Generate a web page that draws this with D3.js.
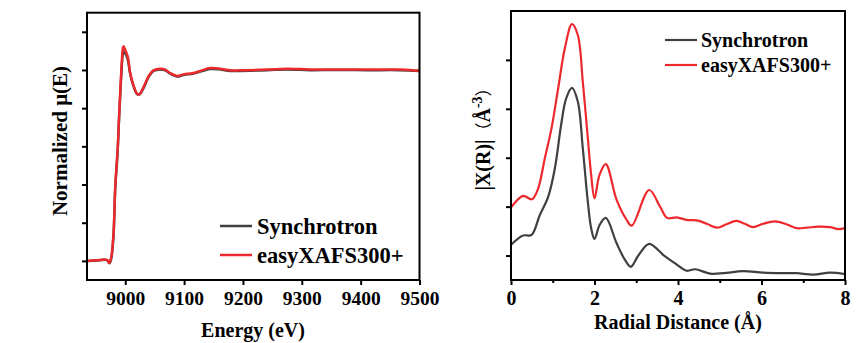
<!DOCTYPE html>
<html><head><meta charset="utf-8">
<script src="https://cdn.jsdelivr.net/npm/d3@7"></script>
<style>body{margin:0;background:#fff}svg{display:block}text{font-family:"Liberation Serif","Times New Roman",serif;font-weight:bold;fill:#000}</style>
</head><body>
<script>
// ---------- Data ----------
const seriesNames = ["Synchrotron", "easyXAFS300+"];
const seriesColors = ["#404040", "#ec2a2e"];

// XANES (left)
const energy      = [8936, 8950, 8969, 8973, 8976, 8980, 8983, 8987, 8990, 8993, 8996, 8997, 9000, 9002, 9005, 9008, 9013, 9020, 9024, 9031, 9040, 9048, 9059, 9068, 9076, 9088, 9099, 9116, 9130, 9144, 9161, 9178, 9195, 9241, 9275, 9314, 9354, 9410, 9467, 9500];
const muSync      = [0.000, 0.002, 0.004, -0.012, 0.010, 0.130, 0.380, 0.570, 0.780, 0.960, 1.090, 1.100, 1.085, 1.075, 1.045, 0.985, 0.925, 0.874, 0.872, 0.905, 0.965, 0.995, 1.003, 0.998, 0.982, 0.966, 0.974, 0.981, 0.994, 1.005, 1.003, 0.995, 0.995, 0.999, 1.003, 0.999, 1.000, 0.999, 0.999, 0.995];
const muEasy      = [0.000, 0.003, 0.005, -0.010, 0.015, 0.140, 0.390, 0.580, 0.790, 0.980, 1.115, 1.124, 1.105, 1.090, 1.060, 0.990, 0.930, 0.876, 0.873, 0.910, 0.970, 0.998, 1.007, 1.002, 0.984, 0.969, 0.977, 0.984, 0.998, 1.010, 1.007, 0.998, 0.998, 1.002, 1.007, 1.002, 1.003, 1.002, 1.002, 0.997];
const energyTicks = [9000, 9100, 9200, 9300, 9400, 9500];
const muTicks     = [0, 0.2, 0.4, 0.6, 0.8, 1.0, 1.2];

// EXAFS FT (right)
const rSync   = [0, 0.29, 0.49, 0.69, 0.89, 1.05, 1.20, 1.32, 1.46, 1.60, 1.72, 1.84, 1.92, 2.00, 2.12, 2.27, 2.53, 2.73, 2.87, 3.05, 3.31, 3.65, 3.93, 4.21, 4.41, 4.77, 5.09, 5.56, 6.04, 6.52, 6.84, 7.24, 7.64, 8.0];
const chiSync = [1.22, 1.41, 1.42, 1.83, 2.20, 2.78, 3.67, 4.21, 4.43, 4.15, 3.19, 2.10, 1.56, 1.34, 1.62, 1.77, 1.25, 0.91, 0.77, 1.00, 1.24, 1.01, 0.84, 0.69, 0.72, 0.63, 0.64, 0.68, 0.65, 0.64, 0.64, 0.61, 0.65, 0.62];
const rEasy   = [0, 0.29, 0.50, 0.65, 0.81, 0.97, 1.13, 1.29, 1.46, 1.60, 1.72, 1.84, 1.92, 2.00, 2.12, 2.27, 2.53, 2.77, 2.89, 3.31, 3.57, 3.74, 3.97, 4.20, 4.45, 4.69, 4.94, 5.16, 5.40, 5.60, 5.80, 6.04, 6.32, 6.60, 6.84, 7.08, 7.36, 7.64, 7.84, 8.0];
const chiEasy = [1.98, 2.22, 2.15, 2.37, 2.99, 3.60, 4.42, 5.24, 5.73, 5.51, 4.55, 3.40, 2.65, 2.17, 2.65, 2.87, 2.14, 1.73, 1.61, 2.34, 2.00, 1.77, 1.78, 1.73, 1.72, 1.65, 1.57, 1.64, 1.71, 1.65, 1.58, 1.65, 1.70, 1.64, 1.56, 1.57, 1.59, 1.58, 1.54, 1.56];
const rMajorTicks = [0, 2, 4, 6, 8];
const rMinorTicks = [1, 3, 5, 7];
const chiTicks = [1, 2, 3, 4, 5];

// ---------- Drawing ----------
const W = 865, H = 343;
const svg = d3.select("body").append("svg").attr("width", W).attr("height", H);

function frame(g, x0, x1, y0, y1) {
  g.append("rect").attr("x", x0).attr("y", y0).attr("width", x1 - x0).attr("height", y1 - y0)
    .attr("fill", "none").attr("stroke", "#000").attr("stroke-width", 2);
}

// Left panel
{
  const x = d3.scaleLinear().domain([8935, 9500]).range([87, 419.5]);
  const y = d3.scaleLinear().domain([-0.1, 1.3]).range([280, 12.7]);
  const g = svg.append("g");
  const clipId = "clipL";
  g.append("clipPath").attr("id", clipId).append("rect").attr("x", 87).attr("y", 12.7).attr("width", 332.5).attr("height", 267.3);

  const xa = g.append("g").attr("transform", "translate(0,280)")
    .call(d3.axisBottom(x).tickValues(energyTicks).tickSize(5).tickPadding(6).tickFormat(d3.format("d")));
  xa.select(".domain").remove();
  xa.selectAll("line").attr("stroke-width", 2);
  xa.selectAll("text").attr("font-size", 19.5).attr("font-family", "Liberation Serif").attr("font-weight", "bold").attr("fill", "#000");
  const ya = g.append("g").attr("transform", "translate(87,0)")
    .call(d3.axisLeft(y).tickValues(muTicks).tickSize(5).tickFormat(""));
  ya.select(".domain").remove();
  ya.selectAll("line").attr("stroke-width", 2);

  const line = d3.line().x((d, i) => x(energy[i])).y(d => y(d)).curve(d3.curveCatmullRom);
  [muSync, muEasy].forEach((s, k) => {
    g.append("path").attr("d", line(s)).attr("fill", "none").attr("stroke", seriesColors[k])
      .attr("stroke-width", 2.5).attr("clip-path", `url(#${clipId})`);
  });
  frame(g, 87, 419.5, 12.7, 280);

  g.append("text").attr("x", 253).attr("y", 336.5).attr("text-anchor", "middle").attr("font-size", 20).text("Energy (eV)");
  g.append("text").attr("transform", "translate(66.5,141) rotate(-90)").attr("text-anchor", "middle").attr("font-size", 21).text("Normalized μ(E)");

  const leg = [226, 255];
  seriesNames.forEach((n, k) => {
    g.append("line").attr("x1", 220).attr("x2", 252).attr("y1", leg[k]).attr("y2", leg[k]).attr("stroke", seriesColors[k]).attr("stroke-width", 2.5);
    g.append("text").attr("x", 257).attr("y", leg[k] + 7.5).attr("font-size", 22.5).text(n);
  });
}

// Right panel
{
  const x = d3.scaleLinear().domain([0, 8]).range([511, 845]);
  const y = d3.scaleLinear().domain([0.5, 6]).range([280, 11]);
  const g = svg.append("g");
  g.append("clipPath").attr("id", "clipR").append("rect").attr("x", 511).attr("y", 11).attr("width", 334).attr("height", 269);

  const xa = g.append("g").attr("transform", "translate(0,280)")
    .call(d3.axisBottom(x).tickValues(rMajorTicks).tickSize(5).tickPadding(6).tickFormat(d3.format("d")));
  xa.select(".domain").remove();
  xa.selectAll("line").attr("stroke-width", 2);
  xa.selectAll("text").attr("font-size", 20).attr("font-family", "Liberation Serif").attr("font-weight", "bold").attr("fill", "#000");
  const xm = g.append("g").attr("transform", "translate(0,280)")
    .call(d3.axisBottom(x).tickValues(rMinorTicks).tickSize(3).tickFormat(""));
  xm.select(".domain").remove();
  xm.selectAll("line").attr("stroke-width", 2);
  const ya = g.append("g").attr("transform", "translate(511,0)")
    .call(d3.axisLeft(y).tickValues(chiTicks).tickSize(5).tickFormat(""));
  ya.select(".domain").remove();
  ya.selectAll("line").attr("stroke-width", 2);

  const mk = xs => d3.line().x((d, i) => x(xs[i])).y(d => y(d)).curve(d3.curveCatmullRom);
  g.append("path").attr("d", mk(rSync)(chiSync)).attr("fill", "none").attr("stroke", seriesColors[0]).attr("stroke-width", 2.2).attr("clip-path", "url(#clipR)");
  g.append("path").attr("d", mk(rEasy)(chiEasy)).attr("fill", "none").attr("stroke", seriesColors[1]).attr("stroke-width", 2.2).attr("clip-path", "url(#clipR)");
  frame(g, 511, 845, 11, 280);

  g.append("text").attr("x", 678).attr("y", 328.5).attr("text-anchor", "middle").attr("font-size", 20).text("Radial Distance (Å)");
  const t = g.append("text").attr("transform", "translate(490,135) rotate(-90)").attr("text-anchor", "middle").attr("font-size", 20);
  t.append("tspan").text("|X(R)|");
  t.append("tspan").attr("font-family", "Noto Sans CJK SC").attr("font-weight", "normal").attr("font-size", 17).text("（");
  t.append("tspan").text("Å");
  t.append("tspan").attr("dy", -8).attr("font-size", 14).text("-3");
  t.append("tspan").attr("dy", 8).attr("font-family", "Noto Sans CJK SC").attr("font-weight", "normal").attr("font-size", 17).text("）");

  const leg = [40, 65];
  seriesNames.forEach((n, k) => {
    g.append("line").attr("x1", 665).attr("x2", 697).attr("y1", leg[k]).attr("y2", leg[k]).attr("stroke", seriesColors[k]).attr("stroke-width", 2.2);
    g.append("text").attr("x", 701).attr("y", leg[k] + 7).attr("font-size", 20).text(n);
  });
}
</script>
</body></html>
